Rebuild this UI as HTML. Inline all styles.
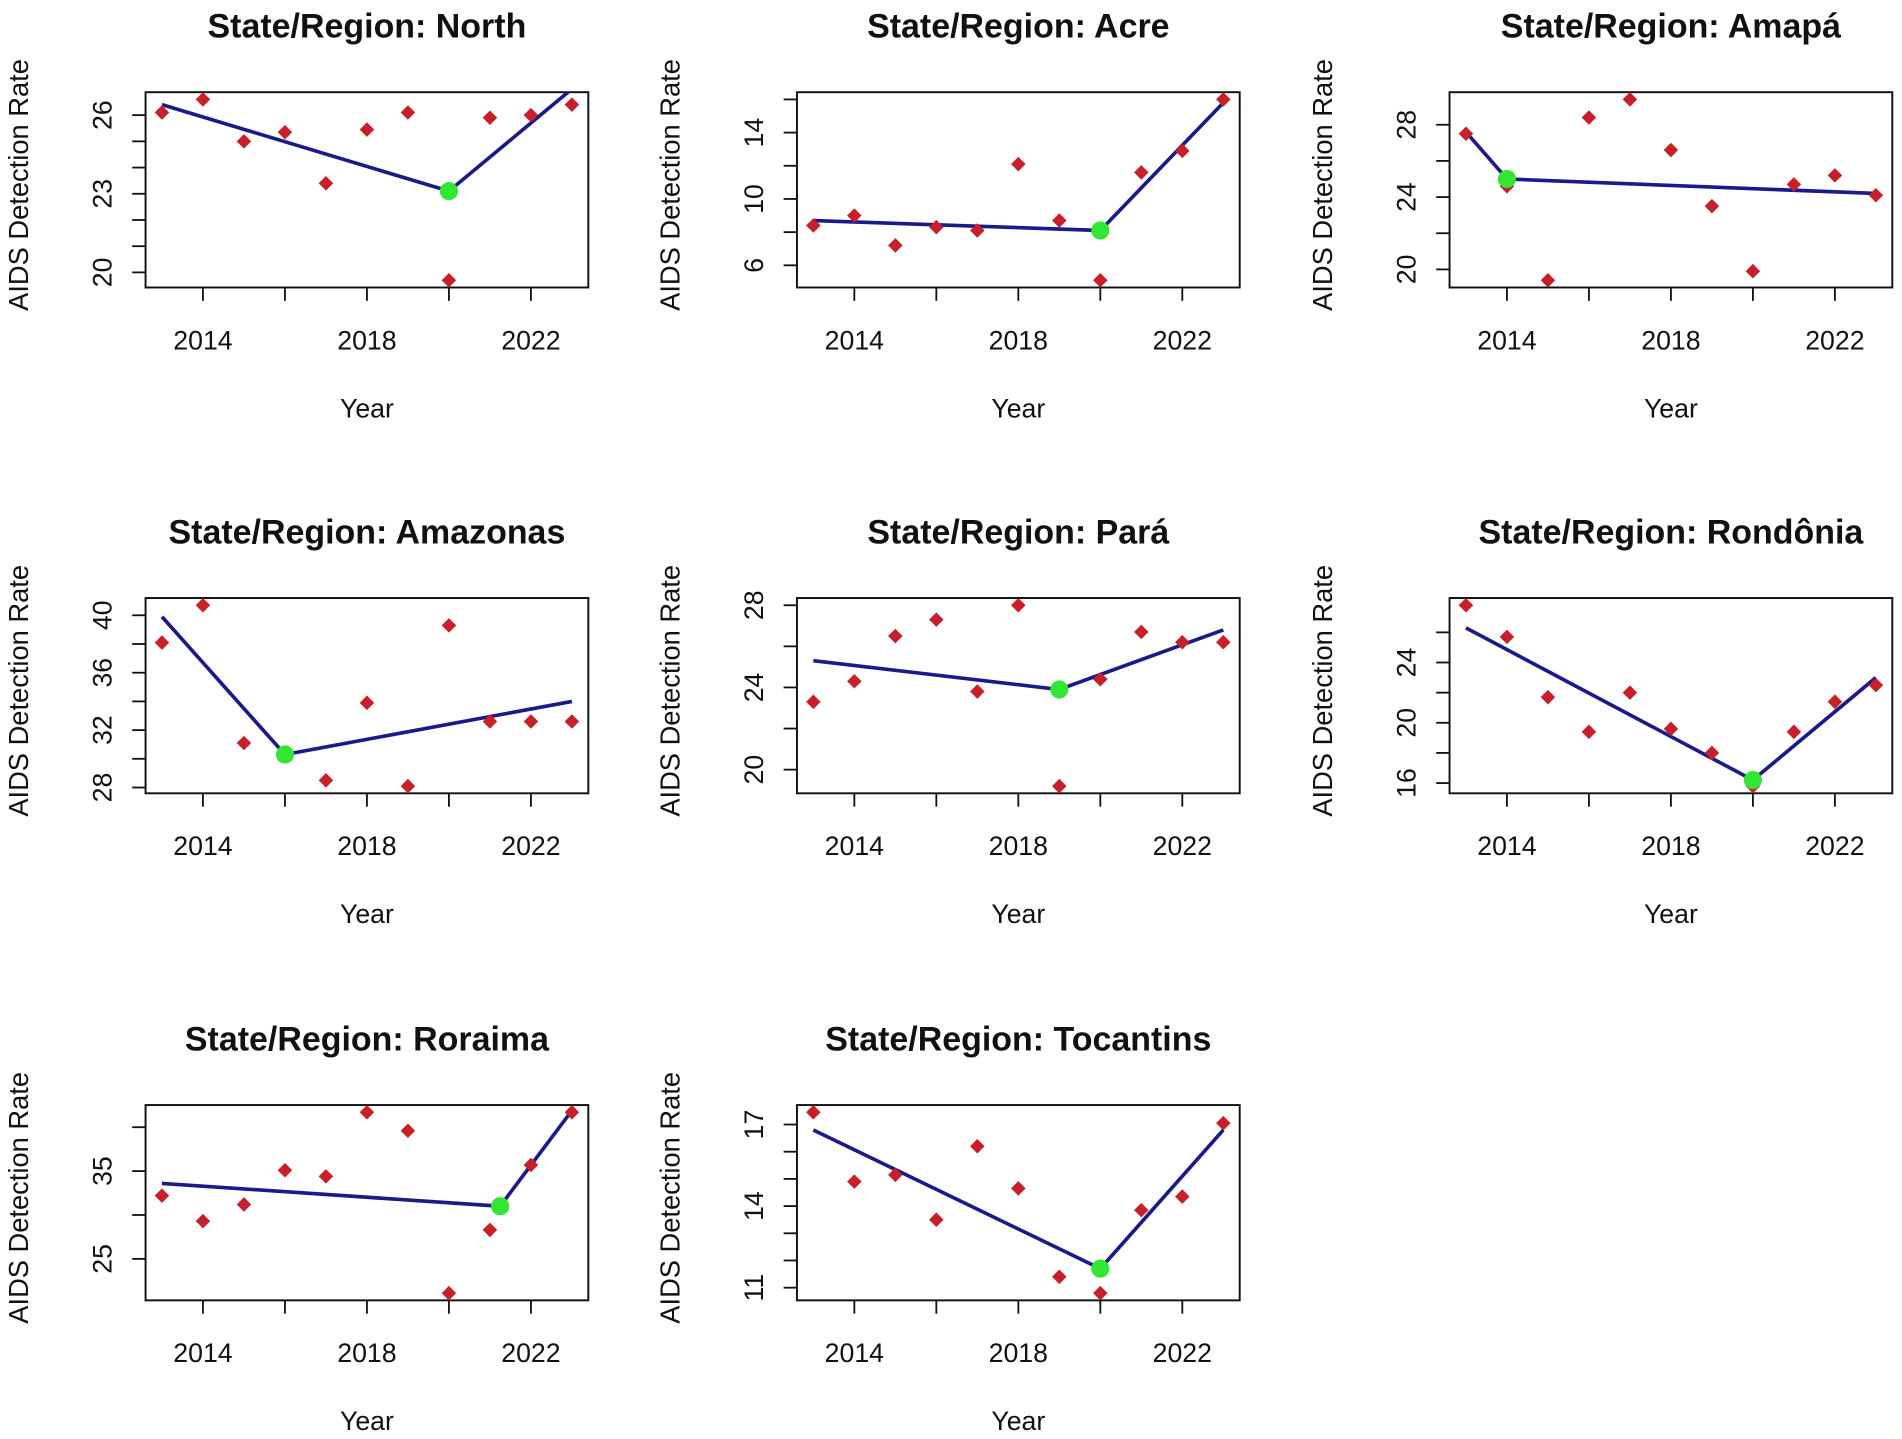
<!DOCTYPE html>
<html><head><meta charset="utf-8"><style>
html,body{margin:0;padding:0;background:#fff;}
svg{display:block;}
text{font-family:"Liberation Sans",Arial,sans-serif;fill:#111;}
</style></head><body>
<svg id="c" width="1902" height="1439" viewBox="0 0 1568 1186.3" xmlns="http://www.w3.org/2000/svg"></svg>
<script>
const regions = ["North","Acre","Amapá","Amazonas","Pará","Rondônia","Roraima","Tocantins"];
const years = [2013,2014,2015,2016,2017,2018,2019,2020,2021,2022,2023];
const northVals = [26.1,26.6,25.0,25.35,23.4,25.45,26.1,19.7,25.9,26.0,26.4];
const acreVals = [8.4,9.0,7.2,8.3,8.1,12.1,8.7,5.1,11.6,12.9,16.0];
const amapaVals = [27.5,24.6,19.4,28.4,29.4,26.6,23.5,19.9,24.7,25.2,24.1];
const amazonasVals = [38.1,40.7,31.1,30.2,28.5,33.9,28.1,39.3,32.6,32.6,32.6];
const paraVals = [23.3,24.3,26.5,27.3,23.8,28.0,19.2,24.4,26.7,26.2,26.2];
const rondoniaVals = [27.8,25.7,21.7,19.4,22.0,19.6,18.0,15.8,19.4,21.4,22.5];
const roraimaVals = [32.2,29.3,31.2,35.1,34.4,41.7,39.6,21.1,28.3,35.7,41.7];
const tocantinsVals = [17.45,14.9,15.15,13.5,16.2,14.65,11.4,10.8,13.85,14.35,17.05];
const seriesVals = [northVals,acreVals,amapaVals,amazonasVals,paraVals,rondoniaVals,roraimaVals,tocantinsVals];
// fitted joinpoint lines: [start, break, end] years and values
const fitYears = [[2013,2020,2023],[2013,2020,2023],[2013,2014,2023],[2013,2016,2023],[2013,2019,2023],[2013,2020,2023],[2013,2021.25,2023],[2013,2020,2023]];
const fitVals = [[26.4,23.1,27.0],[8.7,8.1,15.8],[27.6,25.0,24.2],[39.9,30.3,34.0],[25.3,23.9,26.8],[26.3,16.2,23.0],[33.6,31.0,41.9],[16.8,11.7,16.8]];
const yTicks = [[20,21,22,23,24,25,26],[6,8,10,12,14,16],[20,22,24,26,28],[28,30,32,34,36,38,40],[20,22,24,26,28],[16,18,20,22,24,26],[25,30,35,40],[11,12,13,14,15,16,17]];
const yLabels = [[20,23,26],[6,10,14],[20,24,28],[28,32,36,40],[20,24,28],[16,20,24],[25,35],[11,14,17]];
const xTicks = [2014,2016,2018,2020,2022];
const xLabels = [2014,2018,2022];

const NS="http://www.w3.org/2000/svg";
const svg=document.getElementById('c');
function mk(tag,attrs,parent){const e=document.createElementNS(NS,tag);for(const k in attrs)e.setAttribute(k,attrs[k]);(parent||svg).appendChild(e);return e;}
const colX=[120,657,1195], rowY=[76,493,911], W=365, H=161;

regions.forEach((name,i)=>{
  const bx=colX[i%3], by=rowY[Math.floor(i/3)];
  const vals=seriesVals[i];
  const g=mk('g',{});
  
  
  const xmin=2013-0.4, xmax=2023+0.4;
  const lo=Math.min(...vals), hi=Math.max(...vals), r=hi-lo;
  const ymin=lo-0.04*r, ymax=hi+0.04*r;
  const X=v=>bx+(v-xmin)/(xmax-xmin)*W;
  const Y=v=>by+H-(v-ymin)/(ymax-ymin)*H;
  const cid='clip'+i;
  const cp=mk('clipPath',{id:cid},g);mk('rect',{x:bx,y:by,width:W,height:H},cp);
  const t=mk('text',{x:bx+W/2,y:by-45,'text-anchor':'middle','font-size':28,'font-weight':'bold'},g);
  t.textContent='State/Region: '+name;
  
  
  const yl=mk('text',{x:0,y:0,transform:`translate(${bx-97},${by+H/2-4}) rotate(-90)`,'text-anchor':'middle','font-size':22.5},g);
  yl.textContent='AIDS Detection Rate';
  
  
  const xl=mk('text',{x:bx+W/2,y:by+H+107,'text-anchor':'middle','font-size':22},g);
  xl.textContent='Year';
  
  
  const box=mk('rect',{x:bx,y:by,width:W,height:H,fill:'none',stroke:'#111','stroke-width':1.6},g);
  
  
  xTicks.forEach(v=>{mk('line',{x1:X(v),x2:X(v),y1:by+H,y2:by+H+11,stroke:'#111','stroke-width':1.5},g);});
  xLabels.forEach(v=>{const tt=mk('text',{x:X(v),y:by+H+51,'text-anchor':'middle','font-size':22},g);tt.textContent=v;
    
    });
  yTicks[i].forEach(v=>{if(Y(v)<by-0.5||Y(v)>by+H+0.5)return;mk('line',{x1:bx-11,x2:bx,y1:Y(v),y2:Y(v),stroke:'#111','stroke-width':1.5},g);});
  yLabels[i].forEach(v=>{const tt=mk('text',{x:0,y:0,transform:`translate(${bx-28},${Y(v)}) rotate(-90)`,'text-anchor':'middle','font-size':22},g);tt.textContent=v;
    
    });
  const pg=mk('g',{'clip-path':`url(#${cid})`},g);
  vals.forEach((v,j)=>{const x=X(years[j]),y=Y(v),s=6;
    const p=mk('polygon',{points:`${x},${y-s} ${x+s},${y} ${x},${y+s} ${x-s},${y}`,fill:'#c8202a'},g);
    
    });
  const fy=fitYears[i], fv=fitVals[i];
  const ln=mk('polyline',{points:fy.map((y,k)=>X(y)+','+Y(fv[k])).join(' '),fill:'none',stroke:'#1a1a8a','stroke-width':3},pg);
  
  
  const bp=mk('circle',{cx:X(fy[1]),cy:Y(fv[1]),r:7.5,fill:'#33e633'},g);
  
  
});
</script>
</body></html>
